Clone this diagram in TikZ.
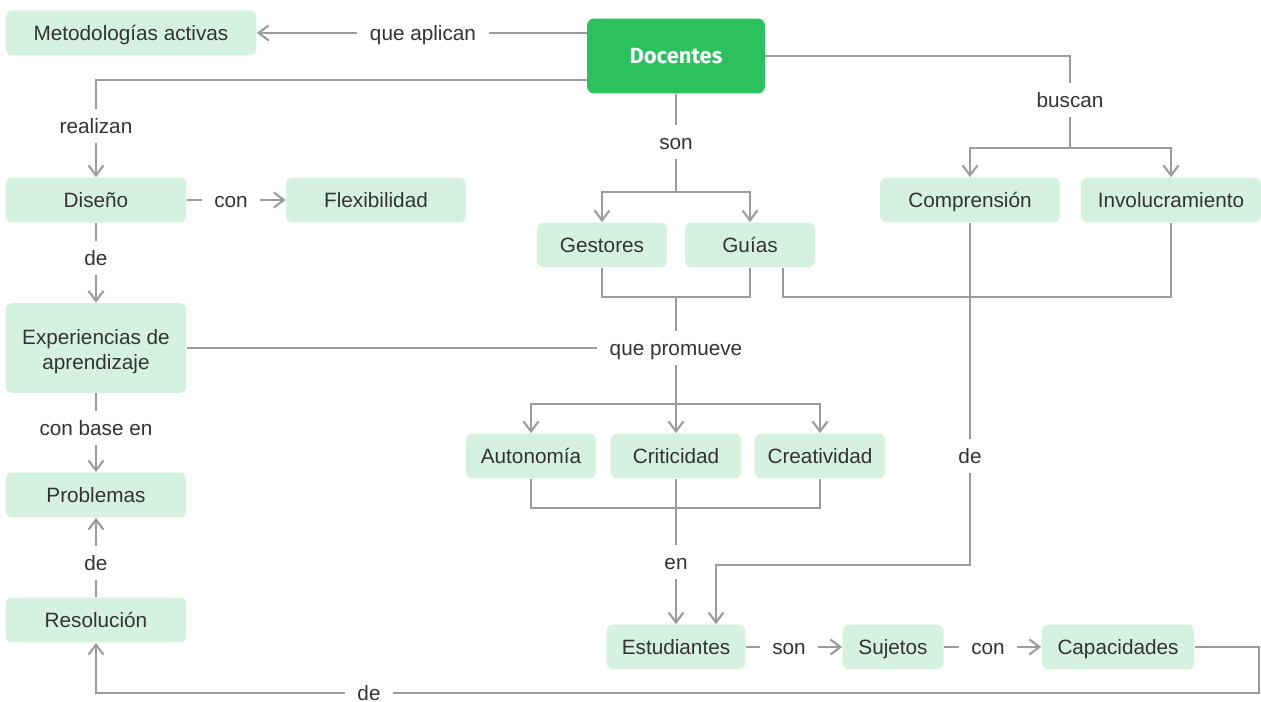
\documentclass[tikz,border=0pt]{standalone}
\usepackage{fontspec}
\setmainfont{Liberation Sans}
\newfontfamily\titrefont{Fira Sans}
\usepackage{xcolor}
\usetikzlibrary{arrows.meta}

\definecolor{vertclair}{HTML}{D5F2E0}
\definecolor{vertfonce}{HTML}{2CC15E}
\definecolor{gristrait}{HTML}{9C9C9C}
\definecolor{gristexte}{HTML}{333333}

\tikzset{
  concept/.style={rectangle, rounded corners=4pt, fill=vertclair, text=gristexte,
    minimum height=0.9cm, align=center, inner sep=2pt, text height=0.95em, text depth=0.15em,
    font=\fontsize{11.8}{14}\selectfont},
  lien/.style={text=gristexte, inner xsep=7pt, inner ysep=4pt, text height=0.95em, text depth=0.15em,
    font=\fontsize{11.8}{14}\selectfont},
  trait/.style={draw=gristrait, line width=1.2pt},
  fleche/.style={trait, -{Straight Barb[length=0.2cm, width=0.3cm, line width=1.2pt]}},
}

\begin{document}
\begin{tikzpicture}[x=0.02cm, y=-0.02cm]
  \useasboundingbox (0,0) rectangle (1261,702);

  % Dessiner les concepts
  \node[rectangle, rounded corners=4pt, fill=vertfonce, text=white, minimum width=3.56cm,
    minimum height=1.5cm, font=\titrefont\bfseries\fontsize{12.5}{14}\selectfont] (doc) at (676,56) {Docentes};
  \node[concept, minimum width=5.02cm] (met) at (131,33) {Metodologías activas};
  \node[concept, minimum width=3.62cm] (dis) at (96,200) {Diseño};
  \node[concept, minimum width=3.6cm] (flex) at (376,200) {Flexibilidad};
  \node[concept, minimum width=3.6cm] (comp) at (970,200) {Comprensión};
  \node[concept, minimum width=3.6cm] (invol) at (1171,200) {Involucramiento};
  \node[concept, minimum width=2.6cm] (gest) at (602,245) {Gestores};
  \node[concept, minimum width=2.6cm] (guia) at (750,245) {Guías};
  \node[concept, minimum width=3.62cm, minimum height=1.8cm, text height=27pt, text depth=2.5pt] (exp) at (96,348) {Experiencias de\\aprendizaje};
  \node[concept, minimum width=2.6cm] (auto) at (531,456) {Autonomía};
  \node[concept, minimum width=2.62cm] (crit) at (676,456) {Criticidad};
  \node[concept, minimum width=2.62cm] (crea) at (820,456) {Creatividad};
  \node[concept, minimum width=3.62cm] (prob) at (96,495) {Problemas};
  \node[concept, minimum width=3.62cm] (res) at (96,620) {Resolución};
  \node[concept, minimum width=2.78cm] (est) at (676,647) {Estudiantes};
  \node[concept, minimum width=2.02cm] (suj) at (893,647) {Sujetos};
  \node[concept, minimum width=3.06cm] (cap) at (1118,647) {Capacidades};

  % Ajouter les mots de liaison
  \node[lien] (aplican) at (423,33) {que aplican};
  \node[lien] (realizan) at (96,126) {realizan};
  \node[lien] (con1) at (231,200) {con};
  \node[lien] (de1) at (96,258) {de};
  \node[lien] (base) at (96,428) {con base en};
  \node[lien] (de2) at (96,563) {de};
  \node[lien] (son1) at (676,142) {son};
  \node[lien] (buscan) at (1070,100) {buscan};
  \node[lien] (promueve) at (676,348) {que promueve};
  \node[lien] (de3) at (970,456) {de};
  \node[lien] (en) at (676,562) {en};
  \node[lien] (son2) at (789,647) {son};
  \node[lien] (con2) at (988,647) {con};
  \node[lien] (de4) at (369,693) {de};

  % Points de branchement
  \coordinate (bcoude) at (1070,148);
  \coordinate (scoude) at (676,192);
  \coordinate (gjoint) at (676,297);
  \coordinate (pcoude) at (676,404);
  \coordinate (ajoint) at (676,508);
  \coordinate (ecoude) at (716,565);
  \coordinate (ccoude) at (1259,693);

  % Relier depuis Docentes
  \draw[trait] (doc.west |- met) -- (aplican);
  \draw[fleche] (aplican) -- (met);
  \draw[trait] ([yshift=-0.48cm]doc.west) -| (realizan);
  \draw[fleche] (realizan) -- (dis);
  \draw[trait] (doc.east) -| (buscan);
  \draw[trait] (buscan) -- (bcoude);
  \draw[fleche] (bcoude) -| (comp);
  \draw[fleche] (bcoude) -| (invol);
  \draw[trait] (doc) -- (son1);
  \draw[trait] (son1) -- (scoude);
  \draw[fleche] (scoude) -| (gest);
  \draw[fleche] (scoude) -| (guia);

  % Colonne de gauche
  \draw[trait] (dis) -- (con1);
  \draw[fleche] (con1) -- (flex);
  \draw[trait] (dis) -- (de1);
  \draw[fleche] (de1) -- (exp);
  \draw[trait] (exp) -- (base);
  \draw[fleche] (base) -- (prob);
  \draw[trait] (res) -- (de2);
  \draw[fleche] (de2) -- (prob);

  % Gestores, Guías et que promueve
  \draw[trait] (gest.south) |- (gjoint) -| (guia.south);
  \draw[trait] ([xshift=0.66cm]guia.south) |- (invol.south |- gjoint) -- (invol.south);
  \draw[trait] (gjoint) -- (promueve);
  \draw[trait] (exp) -- (promueve);
  \draw[trait] (promueve) -- (pcoude);
  \draw[fleche] (pcoude) -| (auto);
  \draw[fleche] (pcoude) -- (crit);
  \draw[fleche] (pcoude) -| (crea);

  % Vers Estudiantes
  \draw[trait] (auto.south) |- (ajoint) -| (crea.south);
  \draw[trait] (crit) -- (en);
  \draw[fleche] (en) -- (est);
  \draw[trait] (comp) -- (de3);
  \draw[fleche] (de3) |- (ecoude) -- (ecoude |- est.north);

  % Ligne du bas
  \draw[trait] (est) -- (son2);
  \draw[fleche] (son2) -- (suj);
  \draw[trait] (suj) -- (con2);
  \draw[fleche] (con2) -- (cap);
  \draw[trait] (cap.east) -| (ccoude) -- (de4);
  \draw[fleche] (de4) -| (res);

\end{tikzpicture}
\end{document}
